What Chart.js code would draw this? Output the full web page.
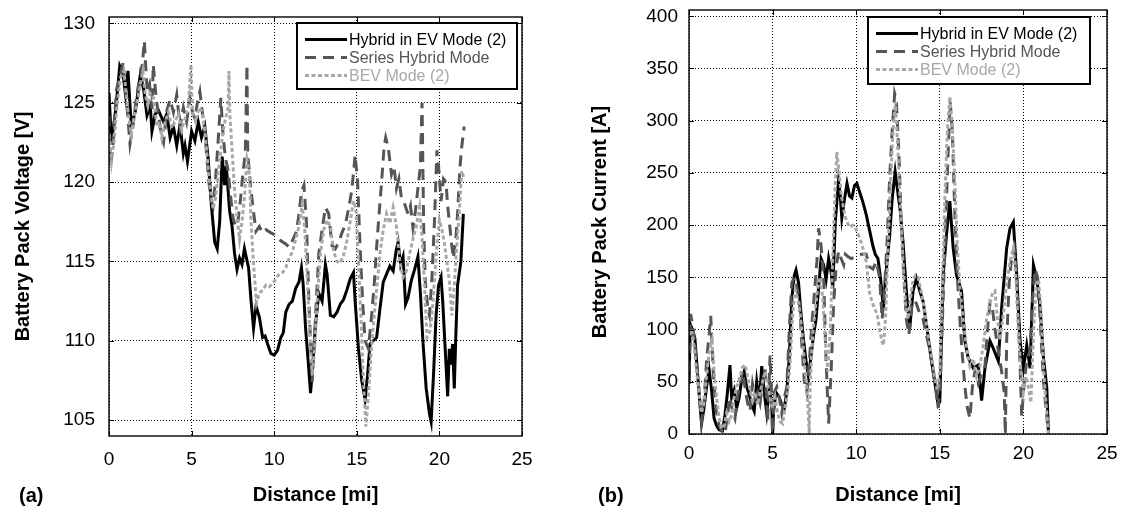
<!DOCTYPE html>
<html>
<head>
<meta charset="utf-8">
<script src="https://cdn.jsdelivr.net/npm/chart.js@4.4.1/dist/chart.umd.min.js"></script>
<style>
  html, body { margin:0; padding:0; background:#fff; }
  #page { position:relative; width:1122px; height:509px; overflow:hidden; font-family:"Liberation Sans", Arial, sans-serif; }
  .panel { position:absolute; top:0; width:561px; height:509px; }
  .tag { position:absolute; top:485px; font:bold 20px/20px "Liberation Sans", Arial, sans-serif; color:#000; }
</style>
</head>
<body>
<div id="page">
  <div class="panel" style="left:0"><canvas id="chart-volt" width="561" height="509"></canvas></div>
  <div class="panel" style="left:561px"><canvas id="chart-curr" width="561" height="509"></canvas></div>
  <div class="tag" style="left:19px">(a)</div>
  <div class="tag" style="left:598px">(b)</div>
</div>
<script>
/* ---- data ---- */
const seriesLabels = ['Hybrid in EV Mode (2)', 'Series Hybrid Mode', 'BEV Mode (2)'];
const distTicks    = [0, 5, 10, 15, 20, 25];
const voltTicks    = [105, 110, 115, 120, 125, 130];
const currTicks    = [0, 50, 100, 150, 200, 250, 300, 350, 400];

// (a) battery pack voltage [V]
const voltEvDist = [0,0.15,0.4,0.65,0.85,1.0,1.15,1.35,1.6,1.9,2.1,2.3,2.5,2.6,2.8,3.0,3.3,3.5,3.7,3.9,4.1,4.3,4.5,4.6,4.75,5.0,5.2,5.4,5.6,5.8,6.0,6.2,6.4,6.55,6.7,6.85,7.0,7.1,7.3,7.45,7.6,7.75,7.9,8.05,8.2,8.3,8.45,8.6,8.75,8.9,9.1,9.3,9.45,9.6,9.8,10.0,10.2,10.4,10.55,10.7,10.9,11.1,11.3,11.5,11.65,11.75,11.9,12.05,12.2,12.3,12.5,12.7,12.9,13.1,13.2,13.4,13.6,13.8,14.0,14.2,14.4,14.6,14.8,14.9,15.1,15.3,15.5,15.65,15.8,16.0,16.2,16.4,16.6,16.8,17.0,17.2,17.4,17.5,17.65,17.8,17.95,18.1,18.3,18.5,18.7,18.85,19.0,19.2,19.4,19.5,19.65,19.8,19.95,20.1,20.2,20.35,20.5,20.6,20.7,20.8,20.9,21.0,21.1,21.3,21.45];
const voltEv     = [125.6,122.5,124.5,127.3,126.8,125.5,127,123.5,124.5,126.8,125.8,124.2,124.8,123.2,124.3,124.5,123.8,124.3,122.8,123.5,122.3,123.6,121.8,122.3,121.3,123.2,122.6,123.8,122.8,123.5,121.5,118.5,116.2,115.8,117.5,121.6,119.8,121,118.2,117.2,115.5,114.5,115.2,114.8,115.8,115.3,114.6,112.5,110.8,112.2,111.5,110.2,110.3,109.8,109.2,109.1,109.4,110.2,110.5,111.8,112.3,112.5,113.3,113.7,114.6,113.6,110.8,108.8,106.7,108,111,113,112.5,114.8,114.2,111.6,111.5,111.8,112.3,112.6,113.2,113.9,114.3,112.5,109.5,107.5,106.3,107.8,109.8,110,110.2,112,113.7,114.2,114.7,114.4,115.8,116.2,114.8,115.3,112.3,112.7,113.8,114.5,115.3,113,110,107,105.4,104.9,108,111.6,113.5,114,112.5,109.5,106.5,109.5,108.5,109.8,107,110.5,113.5,115,118];

const voltSerDist = [0,0.1,0.25,0.45,0.65,0.85,1.0,1.15,1.27,1.45,1.65,1.85,2.0,2.14,2.3,2.45,2.6,2.68,2.85,3.0,3.15,3.3,3.5,3.7,3.9,4.1,4.3,4.5,4.7,4.9,5.05,5.2,5.35,5.5,5.65,5.8,6.0,6.15,6.3,6.45,6.6,6.77,6.9,7.05,7.2,7.35,7.5,7.65,7.8,7.95,8.1,8.25,8.35,8.4,8.55,8.7,8.9,9.1,9.3,9.5,9.8,10.0,10.4,10.7,10.9,11.1,11.35,11.5,11.65,11.8,11.95,12.1,12.3,12.5,12.7,12.9,13.1,13.3,13.5,13.7,13.9,14.1,14.3,14.5,14.7,14.9,15.05,15.2,15.35,15.5,15.7,15.9,16.05,16.2,16.35,16.5,16.65,16.75,16.9,17.1,17.25,17.4,17.55,17.7,17.9,18.1,18.25,18.4,18.55,18.7,18.85,18.95,19.05,19.15,19.3,19.4,19.55,19.7,19.85,19.95,20.1,20.25,20.4,20.5,20.6,20.75,20.85,21.0,21.1,21.25,21.35,21.5];
const voltSer     = [124.2,121,122.5,125.8,126.6,127.5,125.8,124,122.4,123.5,125.3,126.5,127.2,128.9,125.8,126.2,124.6,127.4,125.3,124.2,123,122.5,124.5,125.2,124.4,125.5,123.5,124.7,123.8,125.3,124.4,124,125,125.7,124.4,123.2,120.5,119,118.5,120.2,122.5,125.3,123,121.5,120.8,119.2,117.8,117.2,117.5,118.8,120.5,121.8,127.4,121.8,120,118.5,116.9,117.2,116.8,117,116.8,116.7,116.3,116.1,115.9,116.3,116.9,118,119.4,119.8,117.5,112.5,107.4,111.5,115.5,117,118.4,118,116,115.8,116.2,116.8,117.3,118.3,119.5,121.7,120,115.9,112.5,110,109.5,111.6,113.5,115.9,118,120,122.2,122.8,122.2,120.5,121,119.6,120.2,119,118.6,118,118.5,117.1,118.2,119.6,121,125,117,113.7,112,111.6,114,117.5,122,121,118.8,120.2,120,118.5,117.5,116,115.2,116.5,118,121,122.2,123.5];

const voltBevDist = [0,0.15,0.3,0.5,0.7,0.9,1.05,1.2,1.35,1.5,1.7,1.9,2.05,2.2,2.35,2.5,2.7,2.9,3.05,3.2,3.4,3.6,3.8,4.0,4.2,4.4,4.6,4.8,4.96,5.05,5.25,5.45,5.6,5.8,5.95,6.1,6.3,6.45,6.6,6.75,6.9,7.05,7.2,7.26,7.32,7.45,7.6,7.75,7.9,8.05,8.2,8.35,8.5,8.6,8.75,8.93,9.1,9.3,9.5,9.7,9.9,10.1,10.3,10.5,10.7,10.9,11.1,11.3,11.5,11.7,11.85,12.0,12.15,12.3,12.45,12.6,12.8,13.0,13.2,13.4,13.6,13.8,14.0,14.2,14.4,14.6,14.8,14.95,15.1,15.25,15.4,15.55,15.7,15.85,16.0,16.2,16.4,16.6,16.8,17.0,17.2,17.4,17.6,17.8,18.0,18.2,18.4,18.6,18.8,18.95,19.1,19.25,19.4,19.55,19.7,19.85,20.0,20.15,20.3,20.45,20.6,20.75,20.9,21.05,21.2,21.35,21.5];
const voltBev     = [123,121.3,122.5,125,126.6,127,125.5,124,123,124,125,126.2,127,125.5,124.8,125.6,125.3,123.5,123.8,122.8,123.8,124.4,123.4,123.8,124.3,123.3,124,124.8,127.4,124.4,123.8,124.7,124.5,123.3,121.5,119.8,118.3,119,120.5,121.8,123.2,124,124.6,127,124.2,122,119.5,117.8,116.4,117.5,119,121.4,120.5,117.5,114.8,112.4,113,113.2,113.5,113.4,113.6,113.9,114.2,114.3,114.6,115.2,115.6,116.4,117.2,118.6,117,114,110.5,107.8,109.5,112.5,115.5,117,117.6,117.2,115.6,115,114.9,115.4,116.3,117.5,118.8,118.3,115,111.5,107.5,104.6,106.5,109,111,113.2,115.5,117,118,117.4,118.4,117.2,115,114,114.4,115.5,116.4,117.2,118.4,116.5,113.5,110.2,110.5,111.6,113.8,116,117.6,117,116.2,115,113.8,111.6,113.5,116,118,120.7,120.2];

// (b) battery pack current [A]
const currEvDist = [0,0.08,0.2,0.35,0.5,0.65,0.75,0.9,1.05,1.2,1.35,1.5,1.65,1.8,2.0,2.15,2.3,2.45,2.55,2.7,2.85,3.0,3.15,3.3,3.45,3.6,3.75,3.9,4.05,4.2,4.35,4.5,4.65,4.8,4.95,5.0,5.05,5.2,5.4,5.55,5.7,5.85,6.0,6.15,6.3,6.4,6.55,6.7,6.85,7.0,7.15,7.3,7.45,7.6,7.75,7.9,8.05,8.2,8.35,8.5,8.6,8.75,8.94,9.05,9.14,9.3,9.45,9.6,9.74,9.9,10.04,10.2,10.4,10.6,10.8,11.0,11.14,11.3,11.45,11.63,11.75,11.85,12.0,12.15,12.33,12.5,12.62,12.8,13.0,13.2,13.4,13.6,13.8,14.0,14.2,14.5,14.7,14.9,15.0,15.2,15.4,15.6,15.8,16.0,16.3,16.5,16.7,17.0,17.3,17.5,17.7,18.0,18.2,18.5,18.7,19.0,19.2,19.4,19.6,19.8,20.0,20.2,20.4,20.6,20.8,21.0,21.2,21.4,21.5];
const currEv     = [48,105,100,92,60,30,10,25,45,62,42,15,8,4,3,18,40,66,35,42,25,35,52,60,45,38,28,22,50,30,65,40,20,42,30,0,20,40,35,28,25,40,75,130,152,157,145,115,90,70,54,75,95,110,140,168,162,148,168,155,140,203,242,228,207,225,240,228,226,238,240,232,222,210,195,180,172,168,150,120,150,165,190,225,251,230,216,184,137,101,137,149,137,127,105,70,50,28,31,152,191,223,178,152,137,89,73,63,66,32,63,89,82,70,121,178,197,203,152,89,63,85,63,162,149,121,73,44,0];

const currSerDist = [0,0.1,0.25,0.45,0.6,0.75,0.9,1.05,1.2,1.3,1.45,1.6,1.8,2.0,2.15,2.3,2.45,2.6,2.75,2.9,3.05,3.2,3.35,3.5,3.65,3.8,3.95,4.1,4.25,4.4,4.55,4.7,4.85,4.95,5.0,5.1,5.25,5.4,5.55,5.7,5.85,6.0,6.15,6.3,6.45,6.6,6.75,6.9,7.05,7.2,7.35,7.5,7.65,7.75,7.9,8.05,8.2,8.35,8.5,8.65,8.8,8.95,9.1,9.25,9.35,9.5,9.7,10.0,10.3,10.6,10.8,11.0,11.2,11.4,11.55,11.7,11.85,12.0,12.15,12.3,12.4,12.55,12.7,12.85,13.0,13.15,13.3,13.45,13.6,13.8,14.0,14.2,14.4,14.6,14.75,14.9,15.05,15.2,15.35,15.5,15.62,15.75,15.9,16.05,16.2,16.35,16.5,16.65,16.8,16.95,17.1,17.3,17.5,17.7,17.85,18.0,18.15,18.3,18.5,18.7,18.85,18.92,19.0,19.15,19.3,19.45,19.6,19.75,19.9,20.05,20.2,20.4,20.55,20.7,20.85,21.0,21.2,21.35,21.5];
const currSer     = [60,115,100,70,40,12,30,70,95,113,60,25,8,2,0,18,35,22,15,35,48,60,45,30,22,48,35,40,30,50,62,12,75,30,0,40,45,35,20,35,45,100,145,150,140,128,85,50,40,70,105,135,165,197,180,150,70,10,60,125,160,175,168,162,172,170,168,170,172,172,160,158,165,150,110,140,185,245,290,326,320,270,200,150,110,95,120,128,125,115,110,95,80,60,45,25,60,130,200,270,318,290,210,150,110,75,45,25,15,45,60,48,58,65,100,125,120,100,80,60,40,0,90,145,170,178,150,90,17,50,70,80,130,158,150,110,50,25,0];

const currBevDist = [0,0.15,0.3,0.45,0.6,0.75,0.9,1.05,1.2,1.37,1.5,1.65,1.8,1.95,2.1,2.25,2.4,2.55,2.7,2.85,3.0,3.2,3.37,3.5,3.65,3.8,3.95,4.1,4.25,4.4,4.55,4.7,4.85,5.0,5.15,5.3,5.45,5.6,5.75,5.9,6.05,6.2,6.35,6.5,6.65,6.8,6.95,7.1,7.19,7.25,7.4,7.55,7.7,7.85,8.0,8.15,8.3,8.45,8.6,8.75,8.84,8.95,9.1,9.25,9.4,9.6,9.8,10.0,10.2,10.4,10.6,10.8,10.94,11.1,11.25,11.4,11.55,11.63,11.75,11.9,12.05,12.2,12.35,12.5,12.65,12.8,12.95,13.1,13.25,13.4,13.55,13.7,13.9,14.1,14.3,14.5,14.7,14.85,15.0,15.15,15.3,15.45,15.6,15.75,15.9,16.05,16.2,16.4,16.6,16.8,17.0,17.2,17.4,17.6,17.8,18.0,18.15,18.3,18.45,18.6,18.8,19.0,19.2,19.4,19.55,19.7,19.85,20.0,20.15,20.3,20.45,20.6,20.75,20.9,21.05,21.2,21.35,21.5];
const currBev     = [95,100,85,60,40,20,30,55,78,89,60,35,15,5,8,20,12,18,35,45,52,64,66,55,42,32,40,28,40,50,60,48,35,25,35,20,12,10,25,40,70,115,138,130,115,90,60,30,0,50,95,120,140,150,130,90,60,100,170,240,270,255,230,215,205,198,200,196,188,178,165,135,127,120,115,100,88,85,110,175,240,290,318,270,215,165,125,110,130,148,152,150,135,118,95,75,55,42,60,140,225,290,323,295,240,180,140,110,82,65,72,55,65,85,110,125,135,137,110,90,115,145,165,178,150,100,60,40,55,45,30,95,140,148,120,65,30,0];

/* ---- styles ---- */
const FONT = '"Liberation Sans", Arial, sans-serif';
const LINE_STYLES = [
  { borderColor:'#000000', borderWidth:3, borderDash:[] },
  { borderColor:'#555555', borderWidth:3, borderDash:[11,7] },
  { borderColor:'#a8a8a8', borderWidth:3, borderDash:[4,2.5] }
];

function pts(xs, ys){ return xs.map((x, i) => ({ x, y: ys[i] })); }

// MATLAB-like box: frame, inward ticks on all sides, boxed legend
const boxPlugin = {
  id: 'boxPlugin',
  afterDraw(chart, args, opts){
    const { ctx, chartArea: a, scales: { x, y } } = chart;
    ctx.save();
    ctx.setLineDash([]);
    ctx.strokeStyle = '#000';
    ctx.lineWidth = 1;
    ctx.beginPath();
    x.ticks.forEach(t => {
      const p = Math.round(x.getPixelForValue(t.value)) + 0.5;
      ctx.moveTo(p, a.bottom); ctx.lineTo(p, a.bottom - 5);
      ctx.moveTo(p, a.top);    ctx.lineTo(p, a.top + 5);
    });
    y.ticks.forEach(t => {
      const p = Math.round(y.getPixelForValue(t.value)) + 0.5;
      ctx.moveTo(a.left, p);  ctx.lineTo(a.left + 5, p);
      ctx.moveTo(a.right, p); ctx.lineTo(a.right - 5, p);
    });
    ctx.stroke();
    ctx.lineWidth = 1.4;
    ctx.strokeRect(a.left, a.top, a.right - a.left, a.bottom - a.top);

    // legend
    const bx = a.right - opts.right - opts.width, by = a.top + opts.top;
    ctx.fillStyle = '#fff';
    ctx.fillRect(bx, by, opts.width, opts.height);
    ctx.lineWidth = 2;
    ctx.strokeStyle = '#000';
    ctx.strokeRect(bx, by, opts.width, opts.height);
    ctx.font = '16px ' + FONT;
    ctx.textBaseline = 'middle';
    ctx.textAlign = 'left';
    chart.data.datasets.forEach((ds, i) => {
      const yy = by + 16.6 + i * 18;
      ctx.strokeStyle = ds.borderColor;
      ctx.lineWidth = ds.borderWidth;
      ctx.setLineDash(ds.borderDash || []);
      ctx.beginPath(); ctx.moveTo(bx + 8, yy); ctx.lineTo(bx + 50, yy); ctx.stroke();
      ctx.setLineDash([]);
      ctx.fillStyle = ds.borderColor;
      ctx.fillText(ds.label, bx + 52, yy + 1);
    });
    ctx.restore();
  }
};

function makeChart(id, cfg){
  const datasets = cfg.series.map((s, i) => Object.assign({
    label: seriesLabels[i],
    data: pts(s[0], s[1]),
    showLine: true, pointRadius: 0, fill: false, tension: 0,
    order: 3 - i
  }, LINE_STYLES[i]));

  const tickFont = { family: FONT, size: 19 };
  const titleFont = { family: FONT, size: 20, weight: 'bold' };
  return new Chart(document.getElementById(id), {
    type: 'scatter',
    data: { datasets },
    plugins: [boxPlugin],
    options: {
      responsive: false, animation: false, events: [],
      layout: { padding: cfg.pad },
      plugins: { legend:{ display:false }, tooltip:{ enabled:false }, boxPlugin: cfg.legend },
      scales: {
        x: {
          type: 'linear', min: 0, max: 25,
          afterBuildTicks: s => { s.ticks = distTicks.map(v => ({ value: v })); },
          afterFit: s => { s.height = cfg.xAxisH; s.paddingLeft = 0; s.paddingRight = 0; },
          grid: { color:'#000', lineWidth:1, drawTicks:false },
          border: { display:false, dash:[1,2] },
          ticks: { color:'#000', font: tickFont, padding: cfg.xTickPad, maxRotation:0 },
          title: { display:true, text:'Distance [mi]', color:'#000', font: titleFont, padding:{ top:0, bottom:2 } }
        },
        y: {
          type: 'linear', min: cfg.yMin, max: cfg.yMax,
          afterBuildTicks: s => { s.ticks = cfg.yTicks.map(v => ({ value: v })); },
          afterFit: s => { s.width = cfg.yAxisW; s.paddingTop = 0; s.paddingBottom = 0; },
          grid: { color:'#000', lineWidth:1, drawTicks:false },
          border: { display:false, dash:[1,2] },
          ticks: { color:'#000', font: tickFont, padding: cfg.yTickPad },
          title: { display:true, text: cfg.yTitle, color:'#000', font: titleFont, padding:{ top: cfg.yTitleTop, bottom:0 } }
        }
      }
    }
  });
}

makeChart('chart-volt', {
  series: [[voltEvDist, voltEv], [voltSerDist, voltSer], [voltBevDist, voltBev]],
  yMin: 104, yMax: 130.4, yTicks: voltTicks,
  yTitle: 'Battery Pack Voltage [V]',
  pad: { left:0, top:17, right:39, bottom:0 },
  yAxisW: 109, xAxisH: 73, xTickPad: 12, yTickPad: 14, yTitleTop: 11,
  legend: { right:5, top:6, width:220, height:66 }
});

makeChart('chart-curr', {
  series: [[currEvDist, currEv], [currSerDist, currSer], [currBevDist, currBev]],
  yMin: 0, yMax: 406, yTicks: currTicks,
  yTitle: 'Battery Pack Current [A]',
  pad: { left:0, top:10, right:15, bottom:0 },
  yAxisW: 128, xAxisH: 75, xTickPad: 8, yTickPad: 11, yTitleTop: 27,
  legend: { right:17, top:7, width:222, height:67 }
});
</script>
</body>
</html>
